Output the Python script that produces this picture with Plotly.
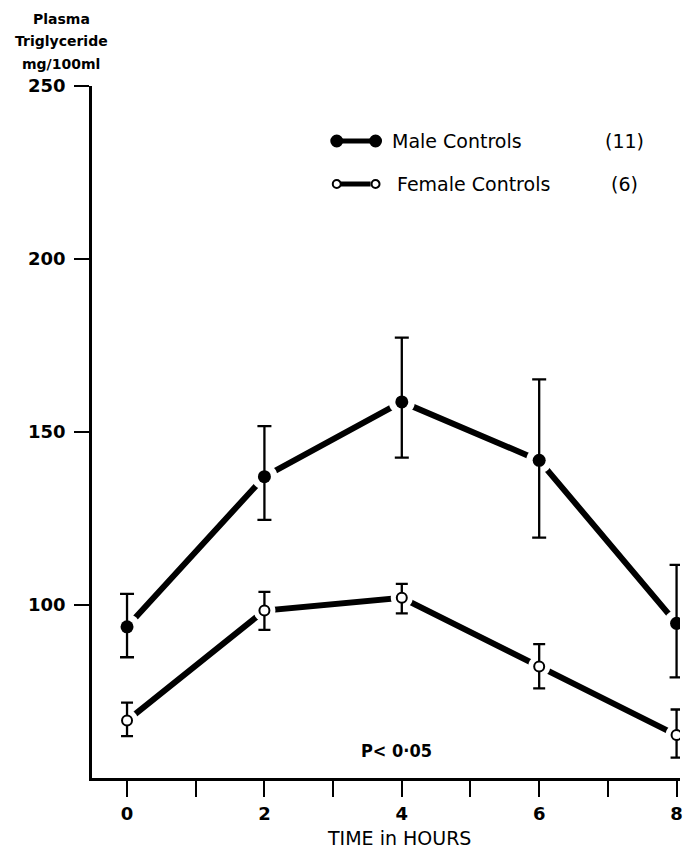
import plotly.graph_objects as go

# Time after the fat load (hours)
hours = [0, 2, 4, 6, 8]

# Mean plasma triglyceride (mg/100ml) with upper / lower error extents
male_mean = [93.7, 137.1, 158.7, 141.8, 94.7]
male_err_up = [9.5, 14.6, 18.6, 23.4, 16.9]
male_err_down = [8.8, 12.5, 16.1, 22.3, 15.6]

female_mean = [66.6, 98.4, 102.1, 82.2, 62.4]
female_err_up = [5.2, 5.4, 4.0, 6.5, 7.4]
female_err_down = [4.5, 5.6, 4.5, 6.3, 6.5]

x_tick_vals = [0, 1, 2, 3, 4, 5, 6, 7, 8]
x_tick_text = ["0", "", "2", "", "4", "", "6", "", "8"]
y_tick_vals = [100, 150, 200, 250]

series_names = ["Male Controls", "Female Controls"]
series_counts = ["(11)", "(6)"]

FONT = "'DejaVu Sans', sans-serif"
COND = "'DejaVu Sans Condensed', 'Liberation Sans Narrow', sans-serif"
W, H = 686, 854
ML, MR, MT, MB = 92, 3, 86, 76
PW, PH = W - ML - MR, H - MT - MB


def px_x(px):
    return (px - ML) / PW


def px_y(py):
    return 1 - (py - MT) / PH


fig = go.Figure()

# Connecting lines; white halos around each point leave a small gap
fig.add_trace(go.Scatter(
    x=hours, y=male_mean, mode="lines+markers",
    line=dict(color="black", width=6),
    marker=dict(size=26, color="white", line=dict(width=0)),
    hoverinfo="skip", showlegend=False))
fig.add_trace(go.Scatter(
    x=hours, y=female_mean, mode="lines+markers",
    line=dict(color="black", width=6),
    marker=dict(size=22, color="white", line=dict(width=0)),
    hoverinfo="skip", showlegend=False))

# Points with error bars
fig.add_trace(go.Scatter(
    x=hours, y=male_mean, mode="markers", name=series_names[0],
    marker=dict(size=13, color="black", symbol="circle"),
    error_y=dict(type="data", symmetric=False, array=male_err_up,
                 arrayminus=male_err_down, color="black", thickness=2.3, width=7),
    showlegend=False))
fig.add_trace(go.Scatter(
    x=hours, y=female_mean, mode="markers", name=series_names[1],
    marker=dict(size=10, color="white", symbol="circle",
                line=dict(color="black", width=2)),
    error_y=dict(type="data", symmetric=False, array=female_err_up,
                 arrayminus=female_err_down, color="black", thickness=2.3, width=6),
    showlegend=False))

shapes = []
annotations = []

# Key: marker-line-marker glyph, series name and group size
key_rows = [(141, True), (184, False)]
for (ky, filled), name, count in zip(key_rows, series_names, series_counts):
    shapes.append(dict(type="line", xref="paper", yref="paper",
                       x0=px_x(342), x1=px_x(372), y0=px_y(ky), y1=px_y(ky),
                       line=dict(color="black", width=5)))
    r = 5.5 if filled else 4
    for cx in (338, 377):
        shapes.append(dict(type="circle", xref="paper", yref="paper",
                           x0=px_x(cx - r), x1=px_x(cx + r),
                           y0=px_y(ky + r), y1=px_y(ky - r),
                           fillcolor="black" if filled else "white",
                           line=dict(color="black", width=2)))
    annotations.append(dict(xref="paper", yref="paper", x=px_x(392 if filled else 397),
                            y=px_y(ky), text=name, showarrow=False,
                            xanchor="left", yanchor="middle",
                            font=dict(family=FONT, size=19, color="black")))
    annotations.append(dict(xref="paper", yref="paper", x=px_x(627),
                            y=px_y(ky), text=count, showarrow=False,
                            xanchor="center", yanchor="middle",
                            font=dict(family=FONT, size=19, color="black")))

# Y-axis heading
for text, py in [("Plasma", 19), ("Triglyceride", 41), ("mg/100ml", 64)]:
    annotations.append(dict(xref="paper", yref="paper", x=px_x(61), y=px_y(py),
                            text="<b>" + text + "</b>",
                            showarrow=False, xanchor="center", yanchor="middle",
                            font=dict(family=FONT, size=14, color="black")))

# Significance note
annotations.append(dict(xref="paper", yref="paper", x=px_x(398), y=px_y(750),
                        text="<b>P< 0·05</b>", showarrow=False,
                        xanchor="center", yanchor="middle",
                        font=dict(family=COND, size=18, color="black")))

# X-axis title
annotations.append(dict(xref="paper", yref="paper", x=px_x(401), y=px_y(838),
                        text="TIME in HOURS", showarrow=False,
                        xanchor="center", yanchor="middle",
                        font=dict(family=FONT, size=19, color="black")))

fig.update_layout(
    width=W, height=H,
    margin=dict(l=ML, r=MR, t=MT, b=MB, pad=0),
    paper_bgcolor="white", plot_bgcolor="white",
    shapes=shapes, annotations=annotations,
    showlegend=False,
    xaxis=dict(range=[-0.51, 8.05], tickmode="array", tickvals=x_tick_vals,
               ticktext=x_tick_text, ticks="outside", ticklen=16, tickwidth=2,
               tickcolor="black", showline=True, linecolor="black", linewidth=2.5,
               showgrid=False, zeroline=False, ticklabelstandoff=2,
               tickfont=dict(family=FONT, size=18, color="black", weight="bold")),
    yaxis=dict(range=[50, 250], tickmode="array", tickvals=y_tick_vals,
               ticks="outside", ticklen=15, tickwidth=2, tickcolor="black",
               showline=True, linecolor="black", linewidth=2.5,
               showgrid=False, zeroline=False, ticklabelstandoff=5,
               tickfont=dict(family=FONT, size=18, color="black", weight="bold")),
)

fig.write_html("out.html")
